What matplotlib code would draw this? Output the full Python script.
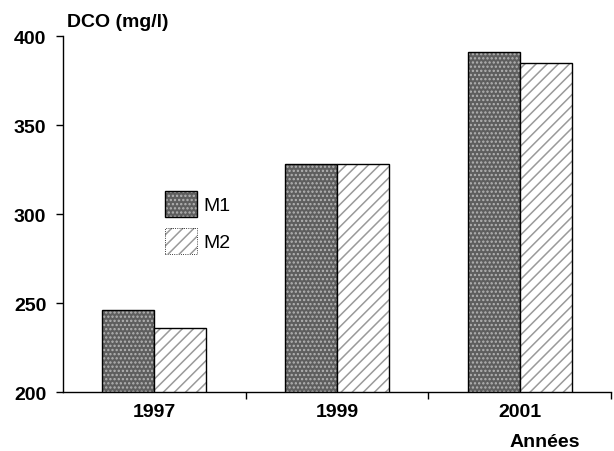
#!/usr/bin/env python3
"""
DCO par année (M1 / M2) - histogramme groupé
"""
import numpy as np
import matplotlib
matplotlib.use('Agg')
import matplotlib.pyplot as plt
from matplotlib.patches import Patch
from matplotlib.legend_handler import HandlerTuple

plt.rcParams['font.family'] = ['Liberation Sans', 'DejaVu Sans']
plt.rcParams['hatch.linewidth'] = 1.1

# données
years = ['1997', '1999', '2001']
m1 = [246, 328, 391]
m2 = [236, 328, 385]
series_names = ['M1', 'M2']

# styles
m1_face, m1_hatch, m1_hcol = '#5e5e5e', '....', '#b4b4b4'
m2_face, m2_hatch, m2_hcol = 'white', '///', '#9a9a9a'

fig = plt.figure(figsize=(6.14, 4.52), dpi=100)
ax = fig.add_axes([0.1026, 0.1305, 0.8924, 0.7875])

x = np.arange(len(years))
w = 0.285

# barres : hachure puis contour noir
ax.bar(x - w / 2, m1, w, color=m1_face, hatch=m1_hatch, edgecolor=m1_hcol, linewidth=0)
ax.bar(x - w / 2, m1, w, fill=False, edgecolor='black', linewidth=1.0)
ax.bar(x + w / 2, m2, w, color=m2_face, hatch=m2_hatch, edgecolor=m2_hcol, linewidth=0)
ax.bar(x + w / 2, m2, w, fill=False, edgecolor='black', linewidth=1.0)

ax.set_xlim(-0.5, len(years) - 0.5)
ax.set_ylim(200, 400)
ax.set_yticks([200, 250, 300, 350, 400])

# étiquettes des années sans traits, traits aux frontières
ax.set_xticks(x)
ax.set_xticklabels(years, fontsize=14, fontweight='bold')
ax.tick_params(axis='x', which='major', length=0, pad=8)
ax.set_xticks(np.arange(len(years)) + 0.5, minor=True)
ax.tick_params(axis='x', which='minor', length=5, width=1, direction='out')
ax.tick_params(axis='y', length=5, width=1, direction='out', labelsize=14, pad=7)
for lab in ax.get_yticklabels():
    lab.set_fontweight('bold')

for s in ['top', 'right']:
    ax.spines[s].set_visible(False)
for s in ['left', 'bottom']:
    ax.spines[s].set_linewidth(1.0)

fig.text(0.109, 0.94, 'DCO (mg/l)', fontsize=14, fontweight='bold', va='baseline')
fig.text(0.888, 0.012, 'Années', fontsize=14, fontweight='bold', ha='center', va='baseline')

# légende
h1 = (Patch(facecolor=m1_face, hatch=m1_hatch, edgecolor=m1_hcol, linewidth=0),
      Patch(fill=False, edgecolor='black', linewidth=1.0))
h2 = (Patch(facecolor=m2_face, hatch=m2_hatch, edgecolor=m2_hcol, linewidth=0),
      Patch(fill=False, edgecolor='black', linewidth=0.6, linestyle=':'))
ax.legend([h1, h2], series_names, handler_map={tuple: HandlerTuple(ndivide=1)},
          loc='upper left', bbox_to_anchor=(0.155, 0.615), frameon=False,
          fontsize=14, handlelength=1.6, handleheight=1.7, handletextpad=0.35,
          labelspacing=0.55)

fig.savefig('out.png', dpi=100)
